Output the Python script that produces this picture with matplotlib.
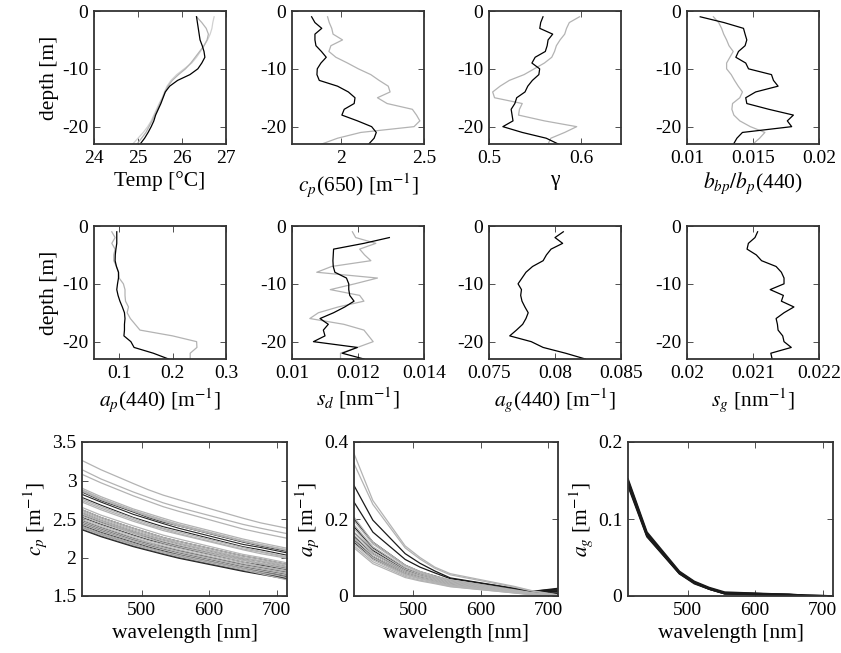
import numpy as np
import matplotlib
matplotlib.use("Agg")
import matplotlib.pyplot as plt
from matplotlib.ticker import FormatStrFormatter

plt.rcParams['font.family'] = ['Liberation Serif', 'DejaVu Serif']
plt.rcParams['mathtext.fontset'] = 'stix'
plt.rcParams['axes.unicode_minus'] = True

# depth of profile samples [m]
depth = [-1, -2, -3, -4, -5, -6, -7, -8, -9, -10, -11, -12,
         -13, -14, -15, -16, -17, -18, -19, -20, -21, -22, -23]

# profiles (black = station 1, gray = station 2)
temp_k = [26.33, 26.35, 26.37, 26.39, 26.41, 26.46, 26.50, 26.52, 26.45, 26.36, 26.18, 25.90,
          25.72, 25.62, 25.57, 25.52, 25.46, 25.40, 25.36, 25.30, 25.23, 25.15, 25.05]
temp_g = [26.33, 26.45, 26.55, 26.60, 26.57, 26.50, 26.40, 26.30, 26.20, 26.08, 25.92, 25.78,
          25.68, 25.62, 25.56, 25.50, 25.44, 25.38, 25.32, 25.25, 25.18, 25.08, 24.98]
temp_l = [26.73, 26.70, 26.68, 26.64, 26.58, 26.50, 26.42, 26.33, 26.22, 26.05, 25.88, 25.75,
          25.66, 25.60, 25.55, 25.48, 25.42, 25.36, 25.30, 25.22, 25.12, 25.00, 24.88]

cp650_k = [1.824, 1.844, 1.885, 1.844, 1.844, 1.850, 1.883, 1.912, 1.880, 1.858, 1.856, 1.870,
           1.980, 2.045, 2.085, 2.080, 2.020, 2.006, 2.100, 2.185, 2.213, 2.200, 2.168]
cp650_g = [1.920, 1.930, 1.945, 1.953, 2.010, 1.940, 1.928, 1.970, 2.040, 2.105, 2.180, 2.230,
           2.285, 2.296, 2.220, 2.278, 2.430, 2.455, 2.475, 2.440, 2.120, 1.980, 1.885]

gam_k = [0.5585, 0.556, 0.555, 0.569, 0.564, 0.563, 0.561, 0.550, 0.5465, 0.5549, 0.554, 0.547,
         0.542, 0.539, 0.530, 0.528, 0.524, 0.525, 0.526, 0.515, 0.536, 0.562, 0.575]
gam_g = [0.598, 0.587, 0.584, 0.582, 0.577, 0.573, 0.571, 0.568, 0.560, 0.549, 0.538, 0.522,
         0.512, 0.504, 0.506, 0.536, 0.533, 0.532, 0.560, 0.595, 0.582, 0.567, 0.564]

bb_k = [0.0110, 0.0128, 0.01428, 0.0144, 0.01453, 0.0144, 0.0139, 0.0137, 0.01445, 0.01466, 0.0164, 0.01655,
        0.0169, 0.0152, 0.01445, 0.01453, 0.0162, 0.01806, 0.0176, 0.01793, 0.0142, 0.01378, 0.01353]
bb_g = [0.0120, 0.0124, 0.01262, 0.01278, 0.0130, 0.01318, 0.0135, 0.01325, 0.0130, 0.0130, 0.01335, 0.0136,
        0.01388, 0.0142, 0.0140, 0.01345, 0.0134, 0.01355, 0.0140, 0.0148, 0.0159, 0.0155, 0.0150]

ap440_k = [0.0956, 0.0956, 0.0956, 0.094, 0.0928, 0.0925, 0.095, 0.0988, 0.0988, 0.097, 0.0956, 0.098,
           0.1015, 0.106, 0.110, 0.111, 0.110, 0.110, 0.109, 0.122, 0.128, 0.164, 0.1925]
ap440_g = [0.0863, 0.0925, 0.0863, 0.0925, 0.090, 0.090, 0.095, 0.099, 0.100, 0.108, 0.111, 0.111,
           0.112, 0.1175, 0.115, 0.121, 0.130, 0.139, 0.200, 0.245, 0.2456, 0.233, 0.233]

sd_k = [np.nan, 0.01295, 0.01218, 0.01126, 0.01125, 0.01124, 0.01125, 0.01130, 0.01165, 0.01172, 0.01172, 0.01175,
        0.01188, 0.01160, 0.01126, 0.01085, 0.01110, 0.01095, 0.01100, 0.01065, 0.01198, 0.01152, 0.01218]
sd_g = [0.01183, 0.01193, 0.01254, 0.01205, 0.01220, 0.01239, 0.01120, 0.01075, 0.01259, 0.01190, 0.01116, 0.01205,
        0.01218, 0.01140, 0.01080, 0.01054, 0.01157, 0.01218, 0.01232, 0.01246, 0.01198, 0.01147, 0.01147]

ag440_k = [0.08063, 0.0800, 0.08058, 0.0797, 0.07935, 0.0791, 0.0783, 0.0778, 0.0775, 0.0772, 0.07746, 0.0774,
           0.0775, 0.07772, 0.07797, 0.0778, 0.07755, 0.07708, 0.07657, 0.0782, 0.0791, 0.0808, 0.0823]

sg_k = [0.02107, 0.02103, 0.02093, 0.02091, 0.02105, 0.02113, 0.02135, 0.02143, 0.02147, 0.02147, 0.02126, 0.02146,
        0.02143, 0.02162, 0.02147, 0.02135, 0.02137, 0.02138, 0.02145, 0.02147, 0.02158, 0.02127, 0.02129]

# ac-9 wavelengths [nm]
wl = [412, 440, 488, 510, 532, 555, 650, 676, 715]

cp_spec_k = [
    [2.85, 2.74, 2.59, 2.52, 2.46, 2.41, 2.20, 2.15, 2.08],
    [2.82, 2.72, 2.56, 2.50, 2.44, 2.38, 2.17, 2.13, 2.06],
    [2.78, 2.68, 2.52, 2.46, 2.40, 2.35, 2.14, 2.10, 2.03],
    [2.62, 2.52, 2.38, 2.32, 2.26, 2.21, 2.02, 1.98, 1.91],
    [2.58, 2.48, 2.34, 2.28, 2.23, 2.18, 1.99, 1.95, 1.88],
    [2.55, 2.46, 2.32, 2.26, 2.20, 2.15, 1.97, 1.92, 1.86],
    [2.52, 2.43, 2.29, 2.23, 2.18, 2.13, 1.94, 1.90, 1.84],
    [2.48, 2.39, 2.25, 2.19, 2.14, 2.09, 1.91, 1.87, 1.81],
    [2.46, 2.37, 2.23, 2.18, 2.13, 2.08, 1.90, 1.85, 1.80],
    [2.44, 2.35, 2.22, 2.16, 2.11, 2.06, 1.88, 1.84, 1.78],
    [2.42, 2.33, 2.20, 2.14, 2.09, 2.04, 1.87, 1.82, 1.77],
    [2.40, 2.31, 2.18, 2.12, 2.07, 2.03, 1.85, 1.81, 1.75],
    [2.38, 2.29, 2.16, 2.11, 2.06, 2.01, 1.84, 1.79, 1.74],
    [2.37, 2.28, 2.15, 2.10, 2.05, 2.00, 1.83, 1.79, 1.73],
    [2.36, 2.27, 2.14, 2.09, 2.04, 1.99, 1.82, 1.78, 1.72],
]
cp_spec_g = [
    [3.26, 3.14, 2.96, 2.88, 2.81, 2.75, 2.51, 2.45, 2.38],
    [3.14, 3.02, 2.85, 2.78, 2.71, 2.65, 2.43, 2.38, 2.31],
    [3.08, 2.97, 2.80, 2.73, 2.66, 2.60, 2.37, 2.32, 2.25],
    [2.90, 2.79, 2.63, 2.57, 2.51, 2.45, 2.24, 2.19, 2.12],
    [2.88, 2.77, 2.61, 2.55, 2.49, 2.43, 2.22, 2.17, 2.10],
    [2.87, 2.76, 2.61, 2.54, 2.48, 2.42, 2.21, 2.16, 2.10],
    [2.86, 2.75, 2.60, 2.53, 2.47, 2.41, 2.21, 2.16, 2.09],
    [2.76, 2.66, 2.51, 2.44, 2.38, 2.33, 2.13, 2.08, 2.01],
    [2.74, 2.64, 2.49, 2.42, 2.37, 2.31, 2.11, 2.07, 2.00],
    [2.72, 2.62, 2.47, 2.41, 2.35, 2.30, 2.10, 2.05, 1.99],
    [2.65, 2.55, 2.41, 2.35, 2.29, 2.24, 2.04, 2.00, 1.93],
    [2.62, 2.52, 2.38, 2.32, 2.26, 2.21, 2.02, 1.98, 1.91],
    [2.60, 2.50, 2.36, 2.30, 2.25, 2.19, 2.00, 1.96, 1.90],
    [2.58, 2.48, 2.34, 2.28, 2.23, 2.18, 1.99, 1.95, 1.88],
    [2.56, 2.47, 2.32, 2.27, 2.21, 2.16, 1.97, 1.93, 1.87],
    [2.54, 2.45, 2.31, 2.25, 2.19, 2.14, 1.96, 1.92, 1.85],
    [2.51, 2.42, 2.28, 2.22, 2.17, 2.12, 1.94, 1.89, 1.83],
    [2.49, 2.40, 2.26, 2.20, 2.15, 2.10, 1.92, 1.88, 1.82],
    [2.47, 2.38, 2.24, 2.19, 2.13, 2.08, 1.90, 1.86, 1.80],
    [2.45, 2.36, 2.22, 2.17, 2.12, 2.07, 1.89, 1.85, 1.79],
    [2.43, 2.34, 2.21, 2.15, 2.10, 2.05, 1.87, 1.83, 1.77],
    [2.40, 2.31, 2.18, 2.12, 2.07, 2.03, 1.85, 1.81, 1.74],
    [2.38, 2.29, 2.16, 2.11, 2.06, 2.01, 1.84, 1.79, 1.71],
]

ap_spec_k = [
    [0.287, 0.197, 0.110, 0.085, 0.065, 0.047, 0.020, 0.012, 0.020],
    [0.244, 0.166, 0.095, 0.075, 0.060, 0.045, 0.020, 0.012, 0.018],
    [0.200, 0.140, 0.080, 0.063, 0.052, 0.040, 0.017, 0.011, 0.016],
    [0.180, 0.125, 0.072, 0.058, 0.048, 0.037, 0.016, 0.010, 0.014],
    [0.165, 0.118, 0.068, 0.055, 0.046, 0.035, 0.015, 0.010, 0.012],
    [0.155, 0.110, 0.065, 0.052, 0.044, 0.034, 0.014, 0.009, 0.010],
    [0.145, 0.103, 0.061, 0.049, 0.041, 0.032, 0.013, 0.008, 0.006],
    [0.140, 0.098, 0.058, 0.047, 0.039, 0.030, 0.012, 0.007, 0.002],
]
ap_spec_g = [
    [0.370, 0.248, 0.130, 0.100, 0.075, 0.058, 0.025, 0.014, 0.003],
    [0.344, 0.238, 0.125, 0.096, 0.072, 0.055, 0.023, 0.013, 0.002],
    [0.205, 0.140, 0.080, 0.064, 0.052, 0.042, 0.016, 0.009, 0.003],
    [0.195, 0.135, 0.078, 0.062, 0.050, 0.040, 0.015, 0.008, 0.002],
    [0.185, 0.128, 0.074, 0.059, 0.048, 0.038, 0.014, 0.007, 0.002],
    [0.175, 0.122, 0.070, 0.056, 0.046, 0.036, 0.013, 0.007, 0.001],
    [0.165, 0.115, 0.066, 0.053, 0.044, 0.034, 0.012, 0.006, 0.001],
    [0.158, 0.110, 0.063, 0.051, 0.042, 0.032, 0.011, 0.006, 0.001],
    [0.150, 0.104, 0.060, 0.048, 0.040, 0.030, 0.010, 0.005, 0.000],
    [0.143, 0.099, 0.057, 0.046, 0.038, 0.028, 0.010, 0.005, 0.000],
    [0.136, 0.094, 0.054, 0.044, 0.036, 0.027, 0.009, 0.004, 0.000],
    [0.130, 0.089, 0.051, 0.041, 0.034, 0.025, 0.008, 0.004, 0.000],
    [0.125, 0.084, 0.048, 0.039, 0.032, 0.024, 0.008, 0.003, 0.000],
]

ag_spec = [
    [0.152, 0.083, 0.032, 0.019, 0.011, 0.005, 0.002, 0.001, 0.000],
    [0.150, 0.081, 0.031, 0.018, 0.010, 0.004, 0.002, 0.001, 0.000],
    [0.148, 0.080, 0.030, 0.018, 0.010, 0.004, 0.002, 0.000, 0.000],
    [0.146, 0.079, 0.030, 0.017, 0.009, 0.003, 0.001, 0.000, 0.000],
    [0.145, 0.078, 0.029, 0.017, 0.009, 0.003, 0.001, 0.000, 0.000],
    [0.143, 0.077, 0.029, 0.016, 0.009, 0.003, 0.001, 0.000, 0.000],
]

GRAY = '0.7'
TICK = 14
LAB = 15.5

fig = plt.figure(figsize=(8.41, 6.53), dpi=100)


def style(ax):
    for s in ax.spines.values():
        s.set_linewidth(1.3)
        s.set_color('0.2')
    ax.tick_params(direction='in', top=True, right=True, length=4, width=0.6,
                   labelsize=TICK, pad=4, color='0.2')
    ax.xaxis.set_major_formatter(FormatStrFormatter('%g'))
    ax.yaxis.set_major_formatter(FormatStrFormatter('%g'))


lefts = [94, 292, 489, 687]
W, H = 841, 653


def prof_ax(col, top, bottom):
    x0 = lefts[col]
    return fig.add_axes([x0 / W, (H - bottom) / H, 132 / W, (bottom - top) / H])


# row 1
profiles1 = [
    ([temp_k, temp_g, temp_l], (24, 27), [24, 25, 26, 27], 'Temp [°C]'),
    ([cp650_k, cp650_g], (1.706, 2.5), [2, 2.5], r'$c_p$(650) [m$^{-1}$]'),
    ([gam_k, gam_g], (0.5, 0.643), [0.5, 0.6], 'γ'),
    ([bb_k, bb_g], (0.01, 0.02), [0.01, 0.015, 0.02], r'$b_{bp}/b_p$(440)'),
]
profiles2 = [
    ([ap440_k, ap440_g], (0.053, 0.3), [0.1, 0.2, 0.3], r'$a_p$(440) [m$^{-1}$]'),
    ([sd_k, sd_g], (0.01, 0.014), [0.01, 0.012, 0.014], r'$s_d$ [nm$^{-1}$]'),
    ([ag440_k], (0.075, 0.085), [0.075, 0.08, 0.085], r'$a_g$(440) [m$^{-1}$]'),
    ([sg_k], (0.02, 0.022), [0.02, 0.021, 0.022], r'$s_g$ [nm$^{-1}$]'),
]
line_cols = ['k', GRAY, '0.82']

for row, (profs, top, bottom) in enumerate([(profiles1, 11, 144), (profiles2, 226, 359)]):
    for col, (series, xl, xt, lab) in enumerate(profs):
        ax = prof_ax(col, top, bottom)
        for i in range(len(series) - 1, -1, -1):
            ax.plot(series[i], depth, color=line_cols[i], lw=0.9)
        ax.set_xlim(xl)
        ax.set_ylim(-23, 0)
        ax.set_xticks(xt)
        ax.set_yticks([-20, -10, 0])
        style(ax)
        ax.set_xlabel(lab, fontsize=LAB, labelpad=3)
        if col == 0:
            ax.set_ylabel('depth [m]', fontsize=LAB, labelpad=2)

# row 3: spectra
ax = fig.add_axes([82 / W, 57 / H, 205 / W, 154 / H])
for sp in cp_spec_k:
    ax.plot(wl, sp, color='0.15', lw=0.8)
for sp in cp_spec_g:
    ax.plot(wl, sp, color=GRAY, lw=0.9)
ax.set_xlim(412, 715)
ax.set_ylim(1.5, 3.5)
ax.set_xticks([500, 600, 700])
ax.set_yticks([1.5, 2, 2.5, 3, 3.5])
style(ax)
ax.set_xlabel('wavelength [nm]', fontsize=LAB)
ax.set_ylabel(r'$c_p$ [m$^{-1}$]', fontsize=LAB, labelpad=2)

ax = fig.add_axes([354 / W, 57 / H, 204 / W, 154 / H])
for sp in ap_spec_k:
    ax.plot(wl, sp, color='0.1', lw=0.9)
for sp in ap_spec_g:
    ax.plot(wl, sp, color=GRAY, lw=0.9)
ax.set_xlim(412, 715)
ax.set_ylim(0, 0.4)
ax.set_xticks([500, 600, 700])
ax.set_yticks([0, 0.2, 0.4])
style(ax)
ax.set_xlabel('wavelength [nm]', fontsize=LAB)
ax.set_ylabel(r'$a_p$ [m$^{-1}$]', fontsize=LAB, labelpad=2)

ax = fig.add_axes([628 / W, 57 / H, 205 / W, 154 / H])
for sp in ag_spec:
    ax.plot(wl, sp, color='0.1', lw=1.2)
ax.set_xlim(412, 715)
ax.set_ylim(0, 0.2)
ax.set_xticks([500, 600, 700])
ax.set_yticks([0, 0.1, 0.2])
style(ax)
ax.set_xlabel('wavelength [nm]', fontsize=LAB)
ax.set_ylabel(r'$a_g$ [m$^{-1}$]', fontsize=LAB, labelpad=2)

fig.savefig('out.png', dpi=100)
